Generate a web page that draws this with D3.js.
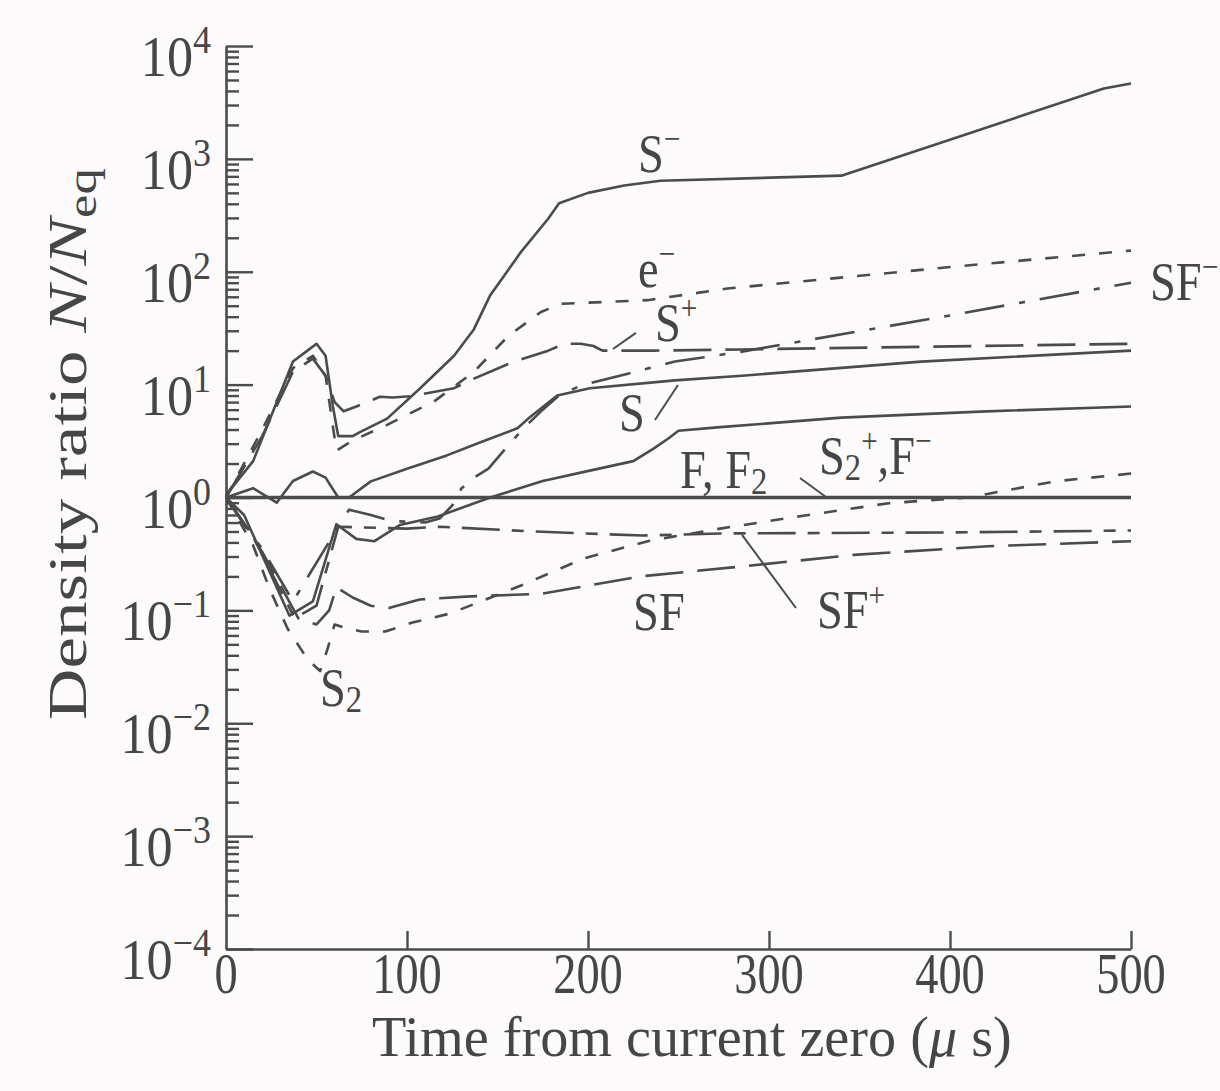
<!DOCTYPE html>
<html>
<head>
<meta charset="utf-8">
<script src="https://cdn.jsdelivr.net/npm/d3@7"></script>
<style>
  html, body { margin: 0; padding: 0; background: #fcfafa; }
  svg { display: block; }
  text { font-family: "Liberation Serif", "Times New Roman", serif; fill: #464646; }
</style>
</head>
<body>
<svg id="chart" width="1220" height="1091"></svg>
<script>
// ---- data: time (µs) and density ratio N/Neq ----
const xTickValues = [0, 100, 200, 300, 400, 500];
const yExponents = [-4, -3, -2, -1, 0, 1, 2, 3, 4];

const sMinus = [[0,1.05],[15,2.1],[37,16],[45,20],[50,23],[55,18],[59,6.5],[62,3.5],[70,3.5],[74,3.8],
  [89,5.0],[107,9.2],[126,18],[137,31],[146,62],[163,150],[178,295],[184,405],[200,500],[220,580],
  [240,640],[340,710],[485,4200],[500,4650]];
const eMinus = [[0,1],[20,4],[37,14],[48,18],[55,12],[61,2.6],[70,3.2],[89,4.4],[115,7.1],[137,13],
  [156,27],[174,44],[185,52],[233,56],[277,71],[400,110],[500,154]];
const sPlus = [[0,1],[20,3.5],[37,13],[48,17],[55,12],[60,7],[65,5.8],[72,6.4],[85,7.8],[92,7.7],
  [102,7.9],[126,9.3],[137,11.3],[159,16],[178,20],[187,23],[196,23],[203,22],[208,20],[236,20],
  [285,20.5],[500,23]];
const sfMinus = [[0,1],[20,0.35],[37,0.12],[58,0.43],[68,0.78],[80,0.7],[91,0.62],[110,0.6],[118,0.65],
  [125,0.85],[130,1.2],[137,1.5],[145,1.8],[156,2.9],[165,4.2],[175,6],[184,8],[196,9.8],[222,12.5],
  [248,16],[285,19.6],[400,41],[500,80]];
const sAtom = [[0,1],[15,1.21],[28,0.9],[37,1.4],[48,1.7],[55,1.5],[62,1.0],[68,1.0],[80,1.39],
  [100,1.8],[122,2.36],[141,3.1],[161,4.1],[167,5.0],[183,8.0],[201,9.3],[248,10.9],[285,12],
  [384,16],[500,20]];
const s2PlusFMinus = [[0,1],[10,0.7],[35,0.09],[48,0.12],[61,0.58],[72,0.43],[82,0.41],[96,0.57],
  [117,0.68],[146,1.0],[175,1.4],[201,1.73],[225,2.1],[236,2.7],[244,3.3],[250,3.9],[273,4.2],
  [340,5.1],[420,5.8],[500,6.4]];
const fF2 = [[0,1],[500,1]];
const sf = [[0,1],[20,0.33],[40,0.085],[50,0.075],[57,0.1],[61,0.16],[70,0.13],[80,0.11],[90,0.105],
  [107,0.125],[118,0.128],[135,0.133],[174,0.14],[229,0.2],[285,0.245],[347,0.31],[421,0.37],[500,0.41]];
const sfPlus = [[0,1],[15,0.45],[38,0.085],[50,0.11],[62,0.55],[100,0.53],[118,0.55],[170,0.5],
  [230,0.46],[273,0.48],[400,0.49],[500,0.51]];
const s2 = [[0,1],[15,0.376],[24,0.156],[34,0.069],[45,0.037],[52,0.029],[56,0.045],[60,0.075],
  [66,0.07],[75,0.065],[88,0.065],[103,0.078],[124,0.094],[163,0.166],[198,0.29],[233,0.41],
  [247,0.45],[273,0.53],[319,0.69],[366,0.89],[410,1.0],[458,1.39],[500,1.63]];

// curve styles
const SOLID = null, SHORT = "13,14", LONG = "38,14", DASHDOT = "40,15,6,15", DASHDOT2 = "38,12,12,12";
const seriesList = [
  { data: s2, dash: SHORT },
  { data: sf, dash: LONG },
  { data: sfPlus, dash: DASHDOT2 },
  { data: sfMinus, dash: DASHDOT },
  { data: sPlus, dash: LONG },
  { data: eMinus, dash: SHORT },
  { data: s2PlusFMinus, dash: SOLID },
  { data: sAtom, dash: SOLID },
  { data: sMinus, dash: SOLID },
  { data: fF2, dash: SOLID, width: 3.4 }
];

// text annotations in data units: [time, N]
const annotations = [
  { parts: [["S"], ["\u2212", "sup"]], at: [227.6, 766] },
  { parts: [["e"], ["\u2212", "sup"]], at: [227.6, 73.3] },
  { parts: [["S"], ["+", "sup"]], at: [237, 24.4] },
  { parts: [["S"]], at: [217.1, 3.88] },
  { parts: [["F, F"], ["2", "sub"]], at: [250.8, 1.21] },
  { parts: [["S"], ["2", "sub"], ["+", "sup"], [",F"], ["\u2212", "sup"]], at: [327.6, 1.61] },
  { parts: [["SF"], ["\u2212", "sup"]], at: [510.5, 56] },
  { parts: [["SF"]], at: [224.9, 0.067] },
  { parts: [["SF"], ["+", "sup"]], at: [326.5, 0.0698] },
  { parts: [["S"], ["2", "sub"]], at: [51.9, 0.0142] }
];
const leaders = [
  [[213.8, 20.7], [226.5, 28.7]],
  [[237, 4.86], [249.7, 9.93]],
  [[317.1, 1.49], [331.5, 1.01]],
  [[285.1, 0.466], [314.9, 0.105]]
];

// ---- layout ----
const INK = "#4b4b4b";
const svg = d3.select("#chart");
const x = d3.scaleLinear().domain([0, 500]).range([226, 1131]);
const y = d3.scaleLog().domain([1e-4, 1e4]).range([949, 46]);

// axes
const yMajor = yExponents.map(e => Math.pow(10, e));
const yMinor = [];
yExponents.slice(0, -1).forEach(e => { for (let m = 2; m <= 9; m++) yMinor.push(m * Math.pow(10, e)); });

const axisStyle = s => {
  s.selectAll(".domain").attr("stroke", INK).attr("stroke-width", 2.6);
  s.selectAll(".tick line").attr("stroke", INK).attr("stroke-width", 2.4);
  s.selectAll(".tick text").remove();
};
svg.append("g").attr("transform", "translate(226,0)")
  .call(d3.axisRight(y).tickValues(yMinor).tickSize(13).tickSizeOuter(0).tickFormat(""))
  .call(axisStyle).call(s => s.select(".domain").remove());
svg.append("g").attr("transform", "translate(226,0)")
  .call(d3.axisRight(y).tickValues(yMajor).tickSize(27).tickSizeOuter(0).tickFormat(""))
  .call(axisStyle);
svg.append("g").attr("transform", `translate(0,${y(1e-4)})`)
  .call(d3.axisBottom(x).tickValues(xTickValues.slice(1)).tickSize(-18).tickSizeOuter(0).tickFormat(""))
  .call(axisStyle);

// compressed serif text helper
function placeText(px, py, anchor, sx, size) {
  return svg.append("text")
    .attr("transform", `translate(${px},${py}) scale(${sx},1)`)
    .attr("text-anchor", anchor)
    .attr("font-size", size);
}

// y tick labels: 10^e
yExponents.forEach(e => {
  const t = placeText(211, y(Math.pow(10, e)) + 30, "end", 0.9, 58);
  t.append("tspan").text("10");
  t.append("tspan").attr("font-size", 40).attr("dy", -23)
    .text(e < 0 ? "\u2212" + Math.abs(e) : String(e));
});

// x tick labels
xTickValues.forEach(v => {
  placeText(x(v), 993, "middle", 0.8, 58).text(String(v));
});

// axis titles, fitted to their widths
function fit(sel, width) {
  const w = sel.node().getComputedTextLength();
  return width / w;
}
const xTitle = svg.append("text").attr("font-size", 56);
xTitle.append("tspan").text("Time from current zero (");
xTitle.append("tspan").attr("font-style", "italic").text("\u03bc");
xTitle.append("tspan").text(" s)");
xTitle.attr("transform", `translate(372,1056) scale(${fit(xTitle, 640)},1)`);

const yTitle = svg.append("text").attr("font-size", 54);
yTitle.append("tspan").text("Density ratio ");
yTitle.append("tspan").attr("font-style", "italic").text("N");
yTitle.append("tspan").text("/");
yTitle.append("tspan").attr("font-style", "italic").text("N");
yTitle.append("tspan").attr("font-size", 40).attr("dy", 10).text("eq");
yTitle.attr("transform", `translate(86,720) rotate(-90) scale(${fit(yTitle, 552)},1)`);

// curves
const line = d3.line().x(d => x(d[0])).y(d => y(d[1]));
const plot = svg.append("g");
seriesList.forEach(s => {
  plot.append("path")
    .datum(s.data)
    .attr("d", line)
    .attr("fill", "none")
    .attr("stroke", INK)
    .attr("stroke-width", s.width || 2.6)
    .attr("stroke-linejoin", "round")
    .attr("stroke-dasharray", s.dash);
});

// leader lines
leaders.forEach(l => {
  svg.append("line")
    .attr("x1", x(l[0][0])).attr("y1", y(l[0][1]))
    .attr("x2", x(l[1][0])).attr("y2", y(l[1][1]))
    .attr("stroke", INK).attr("stroke-width", 2);
});

// curve labels
annotations.forEach(a => {
  const t = placeText(x(a.at[0]), y(a.at[1]), "start", 0.86, 54);
  let shift = 0;
  a.parts.forEach(p => {
    const target = p[1] === "sup" ? -22 : p[1] === "sub" ? 6 : 0;
    const ts = t.append("tspan").attr("dy", target - shift).text(p[0]);
    if (p[1]) ts.attr("font-size", p[1] === "sub" ? 38 : 34);
    shift = target;
  });
});
</script>
</body>
</html>
